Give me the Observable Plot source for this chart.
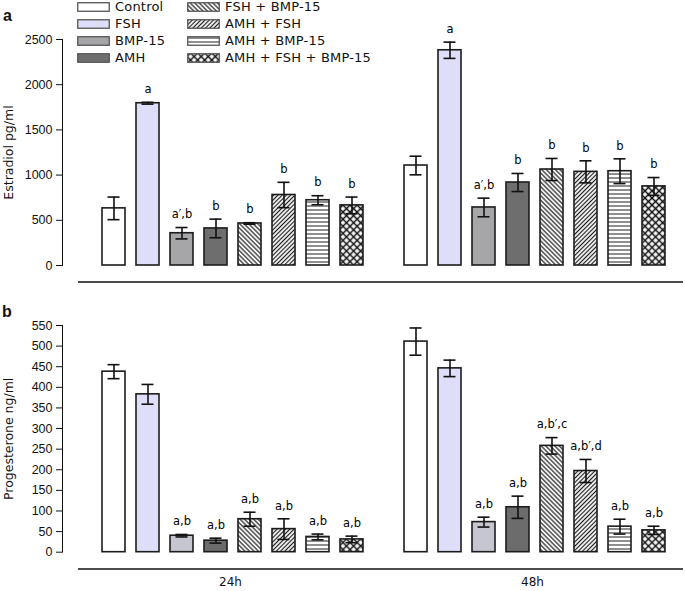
<!DOCTYPE html>
<html><head><meta charset="utf-8">
<script src="https://cdn.jsdelivr.net/npm/d3@7"></script>
<script src="https://cdn.jsdelivr.net/npm/@observablehq/plot@0.6"></script>
<style>
html,body{margin:0;padding:0;background:#fff;}
#wrap{position:relative;width:685px;height:591px;overflow:hidden;font-family:"DejaVu Sans",sans-serif;color:#111;}
.panel{position:absolute;left:0;}
g[aria-label="y-axis tick label"]{font-family:"Liberation Sans Narrow","Liberation Sans",sans-serif;font-size:12.5px;}
.letter{position:absolute;font:bold 16px "Liberation Sans",Arial,sans-serif;line-height:1;}
.leg{position:absolute;font-size:13px;line-height:1;white-space:nowrap;letter-spacing:0.2px;}
.sw{position:absolute;}
</style></head>
<body>
<svg width="0" height="0" style="position:absolute">
<defs>
<pattern id="hatchBack" patternUnits="userSpaceOnUse" width="3.2" height="3.2" patternTransform="rotate(-45)">
<rect width="3.2" height="3.2" fill="#f4f4f4"/>
<line x1="1.6" y1="0" x2="1.6" y2="3.2" stroke="#1a1a1a" stroke-width="1.1"/>
</pattern>
<pattern id="hatchFwd" patternUnits="userSpaceOnUse" width="3" height="3" patternTransform="rotate(45)">
<rect width="3" height="3" fill="#f4f4f4"/>
<line x1="1.5" y1="0" x2="1.5" y2="3" stroke="#1a1a1a" stroke-width="1.1"/>
</pattern>
<pattern id="hatchHoriz" patternUnits="userSpaceOnUse" width="4" height="4">
<rect width="4" height="4" fill="#ffffff"/>
<line x1="0" y1="2" x2="4" y2="2" stroke="#444" stroke-width="1.2"/>
</pattern>
<pattern id="cross" patternUnits="userSpaceOnUse" width="5" height="5" patternTransform="rotate(45)">
<rect width="5" height="5" fill="#ffffff"/>
<path d="M0 2.5H5M2.5 0V5" stroke="#111" stroke-width="1.5"/>
</pattern>
</defs>
</svg>
<div id="wrap"></div>
<script>
// ---- data ----
const treatments = ["Control", "FSH", "BMP-15", "AMH", "FSH + BMP-15", "AMH + FSH", "AMH + BMP-15", "AMH + FSH + BMP-15"];
const times = ["24h", "48h"];

const estradiol24Mean = [632, 1795, 357, 410, 465, 780, 722, 665];
const estradiol24Err  = [125, 10, 63, 103, 8, 140, 50, 92];
const estradiol48Mean = [1106, 2381, 642, 918, 1062, 1036, 1043, 875];
const estradiol48Err  = [103, 90, 103, 100, 122, 122, 137, 98];
const estradiol24Labels = ["", "a", "a′,b", "b", "b", "b", "b", "b"];
const estradiol48Labels = ["", "a", "a′,b", "b", "b", "b", "b", "b"];

const progesterone24Mean = [438, 383, 40, 28, 80, 56, 37, 31];
const progesterone24Err  = [17, 24, 3, 6, 17, 25, 7, 8];
const progesterone48Mean = [511, 446, 73, 109, 258, 197, 62, 53];
const progesterone48Err  = [33, 20, 12, 27, 20, 28, 18, 10];
const progesterone24Labels = ["", "", "a,b", "a,b", "a,b", "a,b", "a,b", "a,b"];
const progesterone48Labels = ["", "", "a,b", "a,b", "a,b′,c", "a,b′,d", "a,b", "a,b"];

const estradiolTicks = [0, 500, 1000, 1500, 2000, 2500];
const progesteroneTicks = [0, 50, 100, 150, 200, 250, 300, 350, 400, 450, 500, 550];

function buildRows(means, errs, labels) {
  const rows = [];
  times.forEach((t, ti) => treatments.forEach((tr, i) => rows.push({
    time: t, treatment: tr, mean: means[ti][i], err: errs[ti][i], label: labels[ti][i]
  })));
  return rows;
}
const estradiolRows = buildRows([estradiol24Mean, estradiol48Mean], [estradiol24Err, estradiol48Err], [estradiol24Labels, estradiol48Labels]);
const progesteroneRows = buildRows([progesterone24Mean, progesterone48Mean], [progesterone24Err, progesterone48Err], [progesterone24Labels, progesterone48Labels]);

const fillsTop = ["#ffffff", "#dedef8", "#a6a6a9", "#6e6e6e", "url(#hatchBack)", "url(#hatchFwd)", "url(#hatchHoriz)", "url(#cross)"];
const fillsBottom = ["#ffffff", "#dedef8", "#c6c6d0", "#6c6c6c", "url(#hatchBack)", "url(#hatchFwd)", "url(#hatchHoriz)", "url(#cross)"];

function panel({rows, yDomain, yTicks, yLabel, fills, showTimes, height, marginTop, marginBottom, baseLineY}) {
  const marks = [
    Plot.barY(rows, {fx: "time", x: "treatment", y: "mean", fill: "treatment", stroke: "#1c1c1c", strokeWidth: 1.6}),
    Plot.ruleX(rows, {fx: "time", x: "treatment", y1: d => d.mean - d.err, y2: d => d.mean + d.err, stroke: "#111", strokeWidth: 1.6}),
    Plot.tickY(rows, {fx: "time", x: "treatment", y: d => d.mean + d.err, insetLeft: 5.5, insetRight: 5.5, stroke: "#111", strokeWidth: 1.6}),
    Plot.tickY(rows, {fx: "time", x: "treatment", y: d => d.mean - d.err, insetLeft: 5.5, insetRight: 5.5, stroke: "#111", strokeWidth: 1.6}),
    Plot.text(rows.filter(d => d.label), {fx: "time", x: "treatment", y: d => d.mean + d.err, text: "label", dy: -13, fontSize: 11.5, fill: "#000"})
  ];
  if (showTimes) marks.push(Plot.axisFx({anchor: "bottom", tickSize: 0, tickPadding: 25, dx: 17.5, label: null, fontSize: 12}));
  const chart = Plot.plot({
    width: 685, height, marginTop, marginBottom, marginLeft: 62, marginRight: 20.2,
    style: {fontFamily: "'DejaVu Sans', sans-serif", fontSize: "12.5px", color: "#111", background: "#fff", overflow: "visible"},
    fx: {domain: times, padding: 0.004, ...(showTimes ? {} : {axis: null})},
    x: {domain: treatments, type: "band", paddingInner: 0.325, paddingOuter: 0.485, align: 1, axis: null},
    y: {domain: yDomain, ticks: yTicks, tickFormat: "d", tickSize: 6, tickPadding: 4, line: true, label: yLabel, labelAnchor: "center", labelOffset: 58, labelArrow: "none", nice: false},
    color: {domain: treatments, range: fills, type: "ordinal"},
    marks
  });
  d3.select(chart).append("line")
    .attr("x1", 78).attr("x2", 683).attr("y1", baseLineY).attr("y2", baseLineY)
    .attr("stroke", "#111").attr("stroke-width", 1.6);
  return chart;
}

const wrap = document.getElementById("wrap");

const chartTop = panel({rows: estradiolRows, yDomain: [0, 2500], yTicks: estradiolTicks, yLabel: "Estradiol pg/ml",
  fills: fillsTop, showTimes: false, height: 295, marginTop: 39, marginBottom: 30, baseLineY: 282});
const topDiv = document.createElement("div"); topDiv.className = "panel"; topDiv.style.top = "0px";
topDiv.appendChild(chartTop); wrap.appendChild(topDiv);

const chartBottom = panel({rows: progesteroneRows, yDomain: [0, 550], yTicks: progesteroneTicks, yLabel: "Progesterone ng/ml",
  fills: fillsBottom, showTimes: true, height: 296, marginTop: 30, marginBottom: 39.3, baseLineY: 274});
const botDiv = document.createElement("div"); botDiv.className = "panel"; botDiv.style.top = "295px";
botDiv.appendChild(chartBottom); wrap.appendChild(botDiv);

// panel letters
[["a", 3, 8], ["b", 2, 304]].forEach(([t, x, y]) => {
  const el = document.createElement("div"); el.className = "letter"; el.textContent = t;
  el.style.left = x + "px"; el.style.top = y + "px"; wrap.appendChild(el);
});

// legend
treatments.forEach((tr, i) => {
  const col = i < 4 ? 0 : 1, row = i % 4;
  const sx = col === 0 ? 77 : 187;
  const cy = 6.5 + 17 * row;
  const sw = document.createElementNS("http://www.w3.org/2000/svg", "svg");
  sw.setAttribute("width", 33); sw.setAttribute("height", 10);
  sw.setAttribute("class", "sw");
  sw.style.left = sx + "px"; sw.style.top = (cy - 5) + "px";
  const r = document.createElementNS("http://www.w3.org/2000/svg", "rect");
  r.setAttribute("x", 0.75); r.setAttribute("y", 0.75); r.setAttribute("width", 31.5); r.setAttribute("height", 8.5);
  r.setAttribute("fill", fillsTop[i]); r.setAttribute("stroke", "#555"); r.setAttribute("stroke-width", 1.3);
  sw.appendChild(r); wrap.appendChild(sw);
  const lab = document.createElement("div"); lab.className = "leg"; lab.textContent = tr;
  lab.style.left = (sx + 38) + "px"; lab.style.top = (cy - 7) + "px";
  wrap.appendChild(lab);
});
</script>
</body></html>
